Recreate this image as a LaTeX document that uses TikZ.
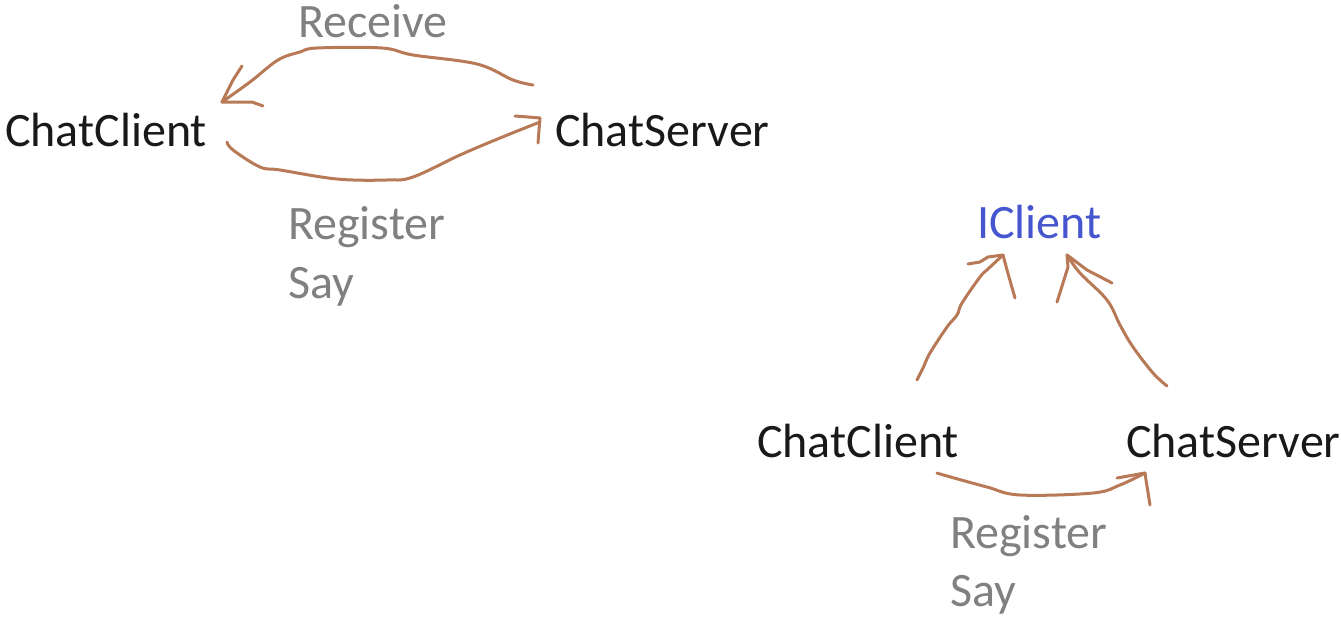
\documentclass[tikz,border=0pt]{standalone}
\usepackage{fontspec}
\setmainfont{Carlito}
\definecolor{ink}{RGB}{25,25,25}
\definecolor{grayt}{RGB}{128,128,128}
\definecolor{bluet}{RGB}{70,86,206}
\definecolor{pen}{RGB}{184,121,87}
\begin{document}
\begin{tikzpicture}[x=1pt,y=-1pt,
  lbl/.style={inner sep=0pt,anchor=base west,font=\fontsize{48}{58}\selectfont},
  blk/.style={lbl,text=ink},
  gry/.style={lbl,text=grayt},
  blu/.style={lbl,text=bluet},
  stroke/.style={draw=pen,line width=3pt,line cap=round,line join=round}]
\useasboundingbox (0,0) rectangle (1341,619);
% left group
\node[gry] (recv) at (298,37) {Receive};
\node[blk] (cc1) at (5,146) {ChatClient};
\node[blk] (cs1) at (555,146) {ChatServer};
\node[gry] (reg1) at (288,239) {Register};
\node[gry] (say1) at (288,298) {Say};
% right group
\node[blu] (ic) at (977,238) {IClient};
\node[blk] (cc2) at (757,457) {ChatClient};
\node[blk] (cs2) at (1126,457) {ChatServer};
\node[gry] (reg2) at (950,548) {Register};
\node[gry] (say2) at (950,606) {Say};
% Receive stroke: ChatServer -> ChatClient
\coordinate (t1) at (222,102);
\draw[stroke] plot[smooth,tension=0.6] coordinates {(533,85) (513,80) (477,64) (413,55) (382,48) (317,48) (300,52) (278,60) (250,82) (222,102)};
\draw[stroke] (t1) -- (233,80) -- (242,66);
\draw[stroke] (t1) -- (252,102) -- (263,106);
% Register/Say stroke: ChatClient -> ChatServer
\coordinate (t2) at (540,118);
\draw[stroke] plot[smooth,tension=0.6] coordinates {(227,142) (233,150) (260,167) (280,170) (337,179) (387,180) (413,177) (460,155) (500,138) (540,122)};
\draw[stroke] (t2) -- (528,117) -- (515,116);
\draw[stroke] (t2) -- (539,130) -- (538,143);
% ChatClient -> IClient
\coordinate (t3) at (1003,255);
\draw[stroke] plot[smooth,tension=0.6] coordinates {(917,380) (923,368) (930,353) (947,327) (957,315) (962,303) (980,277) (988,269) (1003,255)};
\draw[stroke] (t3) -- (988,257) -- (980,262) -- (968,264);
\draw[stroke] (t3) -- (1007,270) -- (1015,298);
% ChatServer -> IClient
\coordinate (t4) at (1067,255);
\draw[stroke] plot[smooth,tension=0.6] coordinates {(1167,386) (1153,373) (1133,347) (1120,325) (1107,300) (1080,273) (1067,255)};
\draw[stroke] (t4) -- (1068,267) -- (1057,302);
\draw[stroke] (t4) -- (1087,270) -- (1112,283);
% ChatClient -> ChatServer (bottom)
\coordinate (t5) at (1145,473);
\draw[stroke] plot[smooth,tension=0.6] coordinates {(937,473) (947,476) (987,487) (1020,495) (1093,493) (1120,485) (1145,473)};
\draw[stroke] (t5) -- (1117,478);
\draw[stroke] (t5) -- (1146,480) -- (1150,505);
\end{tikzpicture}
\end{document}
